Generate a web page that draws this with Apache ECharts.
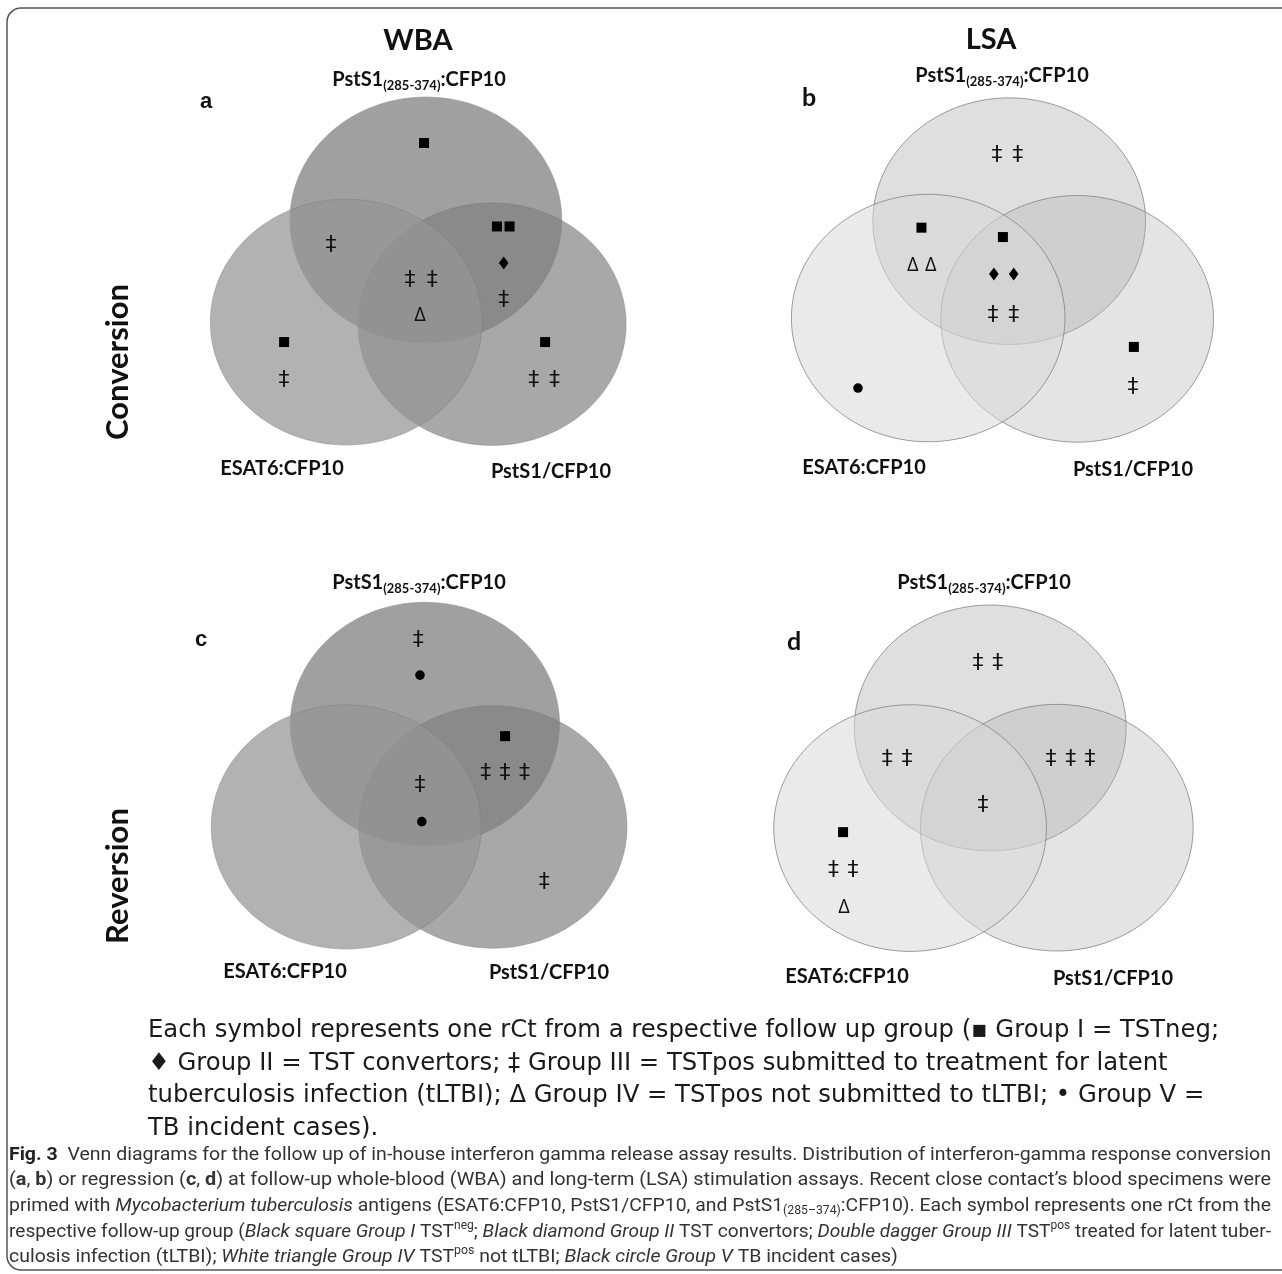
<!DOCTYPE html>
<html><head><meta charset="utf-8">
<script src="https://cdn.jsdelivr.net/npm/echarts@6/dist/echarts.min.js"></script>
<style>html,body{margin:0;padding:0;background:#fff}#c{width:1282px;height:1274px}</style>
</head><body><div id="c"></div>
<script>
// ================= DATA =================
const panelLetters = ['a', 'b', 'c', 'd'];
const columnTitles = ['WBA', 'LSA'];
const rowTitles = ['Conversion', 'Reversion'];
const topSetMain = 'PstS1', topSetSub = '(285-374)', topSetTail = ':CFP10';
const leftSetLabel = 'ESAT6:CFP10';
const rightSetLabel = 'PstS1/CFP10';
// Group I..V symbols
const groupNames = ['Group I', 'Group II', 'Group III', 'Group IV', 'Group V'];

// Venn circles in each panel's own units: [centreX, centreY, radius]; order: top, right, left
const circlesA = [[51.3, 39.3, 30.2], [66.0, 64.9, 29.8], [33.6, 64.4, 30.2]];
const circlesB = [[51.6, 39.6, 30.3], [66.7, 63.6, 30.3], [33.6, 63.4, 30.4]];
const circlesC = [[51.1, 39.3, 29.9], [66.2, 64.6, 29.8], [33.6, 64.6, 30.0]];
const circlesD = [[51.6, 39.3, 30.2], [66.4, 63.8, 30.3], [33.8, 63.9, 30.3]];

// one entry per rCt: [x, y, group index 0..4]
const marksA = [
  [50.9, 20.4, 0],
  [30.2, 45.5, 2],
  [47.8, 54.1, 2], [52.7, 54.1, 2],
  [50.0, 62.7, 3],
  [67.1, 40.9, 0], [69.9, 40.9, 0],
  [68.6, 49.9, 1],
  [68.6, 59.0, 2],
  [19.8, 69.3, 0], [19.8, 78.6, 2],
  [77.8, 69.3, 0], [75.3, 78.6, 2], [79.9, 78.6, 2]
];
const marksB = [
  [48.9, 23.3, 2], [53.5, 23.3, 2],
  [32.1, 41.2, 0],
  [30.2, 50.4, 3], [34.2, 50.4, 3],
  [50.2, 43.5, 0],
  [48.2, 52.6, 1], [52.6, 52.6, 1],
  [48.0, 62.7, 2], [52.6, 62.7, 2],
  [79.3, 70.5, 0], [79.1, 80.3, 2],
  [18.0, 80.6, 4]
];
const marksC = [
  [49.6, 18.7, 2], [50.0, 27.3, 4],
  [68.9, 42.3, 0],
  [64.6, 51.4, 2], [68.9, 51.4, 2], [73.2, 51.4, 2],
  [50.0, 54.3, 2], [50.4, 63.3, 4],
  [77.6, 78.1, 2]
];
const marksD = [
  [48.9, 23.3, 2], [53.3, 23.3, 2],
  [28.7, 46.9, 2], [33.1, 46.9, 2],
  [65.1, 46.9, 2], [69.5, 46.9, 2], [73.8, 46.9, 2],
  [50.0, 58.2, 2],
  [18.9, 64.9, 0],
  [16.8, 74.2, 2], [21.1, 74.2, 2],
  [19.1, 83.3, 3]
];

const legendLines = [
  'Each symbol represents one rCt from a respective follow up group (\u25AA Group I = TSTneg;',
  '\u2666 Group II = TST convertors; \u2021 Group III = TSTpos submitted to treatment for latent',
  'tuberculosis infection (tLTBI); \u0394 Group IV = TSTpos not submitted to tLTBI; \u2022 Group V =',
  'TB incident cases).'
];

// ================= LAYOUT / STYLE =================
const gridBoxes = [
  { left: 195, top: 60 }, { left: 777, top: 60 },
  { left: 195, top: 564 }, { left: 758, top: 568 }
];
const GW = 450, GH = 407;
const darkStyle = [
  { fill: 'rgb(160,160,160)', stroke: 'rgba(150,150,150,0.6)', lw: 1 },
  { fill: 'rgba(128,128,128,0.684)', stroke: 'rgba(120,120,120,0.4)', lw: 1 },
  { fill: 'rgba(149,149,149,0.727)', stroke: 'rgba(120,120,120,0.4)', lw: 1 }
];
const lightStyle = [
  { fill: 'rgb(223,223,223)', stroke: 'rgba(125,125,125,0.75)', lw: 1 },
  { fill: 'rgba(176,176,176,0.344)', stroke: 'rgba(125,125,125,0.75)', lw: 1 },
  { fill: 'rgba(216,216,216,0.542)', stroke: 'rgba(125,125,125,0.75)', lw: 1 }
];
const panelCircles = [circlesA, circlesB, circlesC, circlesD];
const panelMarks = [marksA, marksB, marksC, marksD];
const panelStyles = [darkStyle, lightStyle, darkStyle, lightStyle];

const LABEL_FONT = '"Lato", "Open Sans", sans-serif';

// text measuring helper
const mctx = document.createElement('canvas').getContext('2d');
function measure(t, font) { mctx.font = font; return mctx.measureText(t).width; }
function segLine(segs, x, y, opts) {
  opts = opts || {};
  let cx = 0; const kids = [];
  segs.forEach(s => {
    kids.push({ type: 'text', x: cx, y: s.dy || 0, style: { text: s.t, font: s.f, fill: s.c || opts.fill || '#333', verticalAlign: 'middle' } });
    cx += measure(s.t, s.f);
  });
  let sx = 1;
  if (opts.targetW) sx = opts.targetW / cx;
  if (opts.scale) sx = opts.scale;
  let gx = x;
  if (opts.align === 'center') gx = x - cx * sx / 2;
  return { group: { type: 'group', x: gx, y: y, scaleX: sx, scaleY: 1, children: kids }, width: cx, scale: sx };
}

// ================= BUILD =================
function circleRender(style) {
  return function (params, api) {
    const cx = api.value(0), cy = api.value(1), r = api.value(2);
    const pts = [];
    for (let i = 0; i < 120; i++) {
      const t = i / 120 * Math.PI * 2;
      pts.push(api.coord([cx + r * Math.cos(t), cy + r * Math.sin(t)]));
    }
    const s = style[params.dataIndex];
    return { type: 'polygon', shape: { points: pts }, style: { fill: s.fill, stroke: s.stroke, lineWidth: s.lw } };
  };
}
function markRender(params, api) {
  const p = api.coord([api.value(0), api.value(1)]);
  const g = api.value(2);
  if (g === 0) return { type: 'rect', shape: { x: p[0] - 5, y: p[1] - 5, width: 10, height: 10 }, style: { fill: '#000' } };
  if (g === 1) return { type: 'polygon', shape: { points: [[p[0], p[1] - 6.5], [p[0] + 4.8, p[1]], [p[0], p[1] + 6.5], [p[0] - 4.8, p[1]]] }, style: { fill: '#000' } };
  if (g === 2) return { type: 'text', x: p[0], y: p[1], style: { text: '\u2021', font: '22px "DejaVu Sans"', fill: '#111', align: 'center', verticalAlign: 'middle' } };
  if (g === 3) return { type: 'text', x: p[0], y: p[1], style: { text: '\u0394', font: '20px "Open Sans"', fill: '#111', align: 'center', verticalAlign: 'middle' } };
  return { type: 'circle', shape: { cx: p[0], cy: p[1], r: 4.8 }, style: { fill: '#000' } };
}

const grid = [], xAxis = [], yAxis = [], series = [];
gridBoxes.forEach((b, i) => {
  grid.push({ left: b.left, top: b.top, width: GW, height: GH, show: false });
  xAxis.push({ type: 'value', gridIndex: i, min: 0, max: 100, show: false });
  yAxis.push({ type: 'value', gridIndex: i, min: 0, max: 100, inverse: true, show: false });
  series.push({
    type: 'custom', xAxisIndex: i, yAxisIndex: i, coordinateSystem: 'cartesian2d',
    renderItem: circleRender(panelStyles[i]), data: panelCircles[i], encode: { x: 0, y: 1 }, silent: true, z: 1
  });
  series.push({
    type: 'custom', xAxisIndex: i, yAxisIndex: i, coordinateSystem: 'cartesian2d',
    renderItem: markRender, data: panelMarks[i], encode: { x: 0, y: 1 }, silent: true, z: 5
  });
});

const G = [];
// border
G.push({ type: 'rect', shape: { x: 7, y: 8, width: 1300, height: 1262, r: 14 }, style: { fill: 'none', stroke: '#555', lineWidth: 1.5 }, z: 0 });
// column titles
[[418, 41], [991, 40]].forEach((p, i) => G.push({ type: 'text', x: p[0], y: p[1], style: { text: columnTitles[i], font: 'bold 29px ' + LABEL_FONT, fill: '#111', align: 'center', verticalAlign: 'middle' } }));
// row titles
[[118, 362], [118, 876]].forEach((p, i) => G.push({ type: 'text', x: p[0], y: p[1], rotation: Math.PI / 2, style: { text: rowTitles[i], font: 'bold 31px ' + LABEL_FONT, fill: '#111', align: 'center', verticalAlign: 'middle' } }));
// panel letters
const letterPos = [[206, 102], [809, 98], [201, 640], [794, 642]];
const letterFont = ['bold 22px "Liberation Sans"', 'bold 25px ' + LABEL_FONT, 'bold 22px "Liberation Sans"', 'bold 25px ' + LABEL_FONT];
letterPos.forEach((p, i) => G.push({ type: 'text', x: p[0], y: p[1], style: { text: panelLetters[i], font: letterFont[i], fill: '#111', align: 'center', verticalAlign: 'middle' } }));
// top set labels
const topPos = [[419, 80], [1002, 76], [419, 583], [984, 583]];
topPos.forEach(p => {
  const L = segLine([
    { t: topSetMain, f: 'bold 20px ' + LABEL_FONT, c: '#111' },
    { t: topSetSub, f: 'bold 13px ' + LABEL_FONT, c: '#111', dy: 6 },
    { t: topSetTail, f: 'bold 20px ' + LABEL_FONT, c: '#111' }
  ], p[0], p[1], { align: 'center' });
  G.push(L.group);
});
// bottom set labels
const leftPos = [[282, 469], [864, 468], [285, 972], [847, 977]];
const rightPos = [[551, 472], [1133, 470], [549, 973], [1113, 979]];
leftPos.forEach(p => G.push({ type: 'text', x: p[0], y: p[1], style: { text: leftSetLabel, font: 'bold 20px ' + LABEL_FONT, fill: '#111', align: 'center', verticalAlign: 'middle' } }));
rightPos.forEach(p => G.push({ type: 'text', x: p[0], y: p[1], style: { text: rightSetLabel, font: 'bold 20px ' + LABEL_FONT, fill: '#111', align: 'center', verticalAlign: 'middle' } }));
// legend
legendLines.forEach((t, i) => G.push({ type: 'text', x: 148, y: 1031 + i * 32.5, style: { text: t, font: '24.3px "DejaVu Sans"', fill: '#1a1a1a', verticalAlign: 'middle' } }));
// caption
const CF = '"Roboto", sans-serif';
const R = '19px ' + CF, B = 'bold 19px ' + CF, I = 'italic 19px ' + CF, S = '12px ' + CF;
const capLines = [
  [{ t: 'Fig. 3', f: B, c: '#222' }, { t: '  Venn diagrams for the follow up of in-house interferon gamma release assay results. Distribution of interferon-gamma response conversion', f: R }],
  [{ t: '(', f: R }, { t: 'a', f: B }, { t: ', ', f: R }, { t: 'b', f: B }, { t: ') or regression (', f: R }, { t: 'c', f: B }, { t: ', ', f: R }, { t: 'd', f: B },
   { t: ') at follow-up whole-blood (WBA) and long-term (LSA) stimulation assays. Recent close contact\u2019s blood specimens were', f: R }],
  [{ t: 'primed with ', f: R }, { t: 'Mycobacterium tuberculosis', f: I }, { t: ' antigens (ESAT6:CFP10, PstS1/CFP10, and PstS1', f: R }, { t: '(285\u2013374)', f: S, dy: 5 },
   { t: ':CFP10). Each symbol represents one rCt from the', f: R }],
  [{ t: 'respective follow-up group (', f: R }, { t: 'Black square Group I', f: I }, { t: ' TST', f: R }, { t: 'neg', f: S, dy: -6 }, { t: '; ', f: R },
   { t: 'Black diamond Group II', f: I }, { t: ' TST convertors; ', f: R }, { t: 'Double dagger Group III', f: I }, { t: ' TST', f: R }, { t: 'pos', f: S, dy: -6 },
   { t: ' treated for latent tuber-', f: R }],
  [{ t: 'culosis infection (tLTBI); ', f: R }, { t: 'White triangle Group IV', f: I }, { t: ' TST', f: R }, { t: 'pos', f: S, dy: -6 }, { t: ' not tLTBI; ', f: R },
   { t: 'Black circle Group V', f: I }, { t: ' TB incident cases)', f: R }]
];
let scaleSum = 0;
capLines.forEach((segs, i) => {
  const y = 1155 + i * 25.6;
  if (i < 4) {
    const L = segLine(segs, 9, y, { targetW: 1262, fill: '#333' });
    scaleSum += L.scale; G.push(L.group);
  } else {
    const L = segLine(segs, 9, y, { scale: scaleSum / 4, fill: '#333' });
    G.push(L.group);
  }
});

const chart = echarts.init(document.getElementById('c'), null, { renderer: 'canvas' });
chart.setOption({
  backgroundColor: '#fff',
  animation: false,
  grid, xAxis, yAxis, series,
  graphic: { elements: G }
});
</script></body></html>
